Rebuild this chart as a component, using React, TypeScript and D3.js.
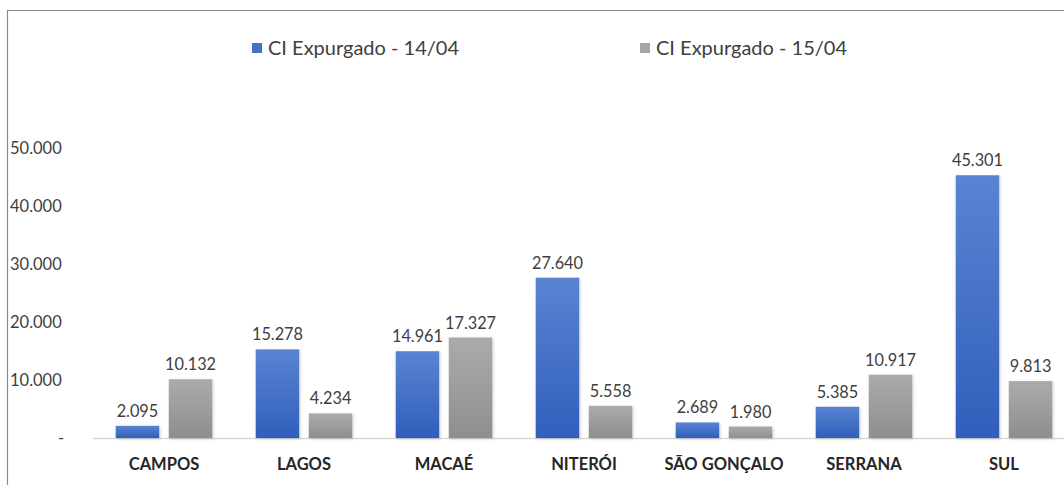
import React, { useRef, useEffect } from "react";
import * as d3 from "d3";

const categories = ["CAMPOS", "LAGOS", "MACAÉ", "NITERÓI", "SÃO GONÇALO", "SERRANA", "SUL"];
const series14 = [2095, 15278, 14961, 27640, 2689, 5385, 45301];
const series15 = [10132, 4234, 17327, 5558, 1980, 10917, 9813];
const seriesNames = ["CI Expurgado - 14/04", "CI Expurgado - 15/04"];
const yTicks = [0, 10000, 20000, 30000, 40000, 50000];

const App: React.FC = () => {
  const ref = useRef<SVGSVGElement | null>(null);

  useEffect(() => {
    if (!ref.current) return;
    const root = d3.select(ref.current);
    root.selectAll("*").remove();

    const width = 1064;
    const height = 485;
    const font = "Lato, 'Open Sans', sans-serif";

    root.attr("width", width).attr("height", height);

    // gradients for the bars
    const defs = root.append("defs");
    const gBlue = defs.append("linearGradient").attr("id", "gBlue").attr("x1", 0).attr("y1", 0).attr("x2", 0).attr("y2", 1);
    gBlue.append("stop").attr("offset", "0%").attr("stop-color", "#5a84d2");
    gBlue.append("stop").attr("offset", "100%").attr("stop-color", "#2f5fbb");
    const gGray = defs.append("linearGradient").attr("id", "gGray").attr("x1", 0).attr("y1", 0).attr("x2", 0).attr("y2", 1);
    gGray.append("stop").attr("offset", "0%").attr("stop-color", "#ababab");
    gGray.append("stop").attr("offset", "100%").attr("stop-color", "#8e8e8e");
    const shadow = defs.append("filter").attr("id", "shadow").attr("x", "-20%").attr("y", "-20%").attr("width", "140%").attr("height", "140%");
    shadow.append("feDropShadow").attr("dx", 1).attr("dy", 1).attr("stdDeviation", 1.5).attr("flood-color", "#000").attr("flood-opacity", 0.18);

    // frame
    root.append("rect").attr("width", width).attr("height", height).attr("fill", "#fff");
    root.append("path").attr("d", `M7.5,${height} V10.5 H${width}`).attr("fill", "none").attr("stroke", "#8a8a8a").attr("stroke-width", 1.2);

    const x = d3.scaleBand().domain(categories).range([94, 1074]).paddingInner(0.31).paddingOuter(0.155);
    const x1 = d3.scaleBand().domain(["a", "b"]).range([0, x.bandwidth()]).paddingInner(0.18);
    const y = d3.scaleLinear().domain([0, 50000]).range([438, 148]);

    const fmt = (v: number) => d3.format(",")(v).replace(/,/g, ".");

    // y tick labels
    root.append("g").selectAll("text").data(yTicks).enter().append("text")
      .attr("x", 10).attr("y", (d) => y(d) + 5.5)
      .attr("font-family", font).attr("font-size", 16.5).attr("fill", "#404040")
      .text((d) => (d === 0 ? "-" : fmt(d)))
      .attr("dx", (d) => (d === 0 ? 48 : 0));

    // baseline
    root.append("line").attr("x1", 93).attr("x2", width).attr("y1", y(0) + 0.5).attr("y2", y(0) + 0.5)
      .attr("stroke", "#d9d9d9").attr("stroke-width", 1.5);

    const groups = root.append("g").selectAll("g").data(categories).enter().append("g")
      .attr("transform", (d) => `translate(${x(d)},0)`);

    const pairs = (i: number) => [
      { key: "a", v: series14[i], fill: "url(#gBlue)" },
      { key: "b", v: series15[i], fill: "url(#gGray)" },
    ];

    groups.selectAll("rect").data((d, i) => pairs(i)).enter().append("rect")
      .attr("x", (d) => x1(d.key)!).attr("width", x1.bandwidth())
      .attr("y", (d) => y(d.v)).attr("height", (d) => y(0) - y(d.v))
      .attr("fill", (d) => d.fill).attr("filter", "url(#shadow)");

    groups.selectAll("text.val").data((d, i) => pairs(i)).enter().append("text")
      .attr("class", "val")
      .attr("x", (d) => x1(d.key)! + x1.bandwidth() / 2).attr("y", (d) => y(d.v) - 9)
      .attr("text-anchor", "middle").attr("font-family", font).attr("font-size", 16.3).attr("fill", "#404040")
      .text((d) => fmt(d.v));

    groups.append("text")
      .attr("x", x.bandwidth() / 2).attr("y", 470)
      .attr("text-anchor", "middle").attr("font-family", font).attr("font-size", 16.5).attr("font-weight", "bold").attr("fill", "#262626")
      .text((d) => d);

    // legend
    const legendX = [252, 640];
    const legendFill = ["#4472c4", "#a5a5a5"];
    const legend = root.append("g").selectAll("g").data(seriesNames).enter().append("g")
      .attr("transform", (d, i) => `translate(${legendX[i]},43)`);
    legend.append("rect").attr("width", 10).attr("height", 10).attr("fill", (d, i) => legendFill[i]);
    legend.append("text").attr("x", 16).attr("y", 12).attr("font-family", font).attr("font-size", 20).attr("fill", "#404040")
      .text((d) => d);
  }, []);

  return <svg ref={ref} style={{ position: "absolute", left: 0, top: 0 }}></svg>;
};

export default App;
